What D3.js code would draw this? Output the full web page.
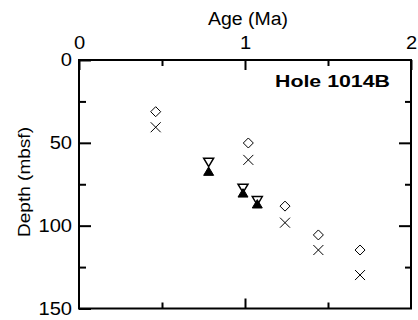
<!DOCTYPE html>
<html>
<head>
<meta charset="utf-8">
<script src="https://cdn.jsdelivr.net/npm/d3@7"></script>
<style>
  html, body { margin: 0; padding: 0; background: #fff; }
  svg { display: block; }
  text { font-family: "Liberation Sans", Arial, sans-serif; fill: #000; }
</style>
</head>
<body>
<svg id="chart" width="418" height="320"></svg>
<script>
// Age–depth points, Hole 1014B
const diamondAge   = [0.462, 1.02, 1.241, 1.442, 1.693];
const diamondDepth = [31.2, 50.1, 88.2, 105.6, 114.7];
const crossAge     = [0.462, 1.02, 1.241, 1.442, 1.693];
const crossDepth   = [40.6, 60.3, 98.2, 114.7, 129.8];
const triAge       = [0.781, 0.988, 1.074];
const openTriDepth = [61.8, 77.5, 85.0];   // open, point-down
const fillTriDepth = [67.1, 80.2, 86.8];   // filled, point-up

const xMajor = [0, 1, 2];
const xMinor = [0.5, 1.5];
const yMajor = [0, 50, 100, 150];
const yMinor = [25, 75, 125];

const svg = d3.select("#chart");
const L = 79, R = 411, T = 60, B = 308.5;

const x = d3.scaleLinear().domain([0, 2]).range([L, R]);
const y = d3.scaleLinear().domain([0, 150]).range([T, B]);

function styleAxis(g) {
  g.select(".domain").remove();
  g.selectAll(".tick line").attr("stroke", "#000").attr("stroke-width", 2);
  g.selectAll(".tick text").style("font-size", "17.5px")
    .style("font-family", '"Liberation Sans", Arial, sans-serif')
    .attr("transform", function () {
      // slightly widened numerals
      const t = d3.select(this);
      const tx = +t.attr("x") || 0;
      return `translate(${tx * -0.15},0) scale(1.15,1)`;
    });
}

// top axis with labels
svg.append("g").attr("transform", `translate(0,${T})`)
  .call(d3.axisTop(x).tickValues(xMajor).tickSize(-10).tickPadding(11).tickFormat(d3.format("d")))
  .call(styleAxis);
svg.append("g").attr("transform", `translate(0,${T})`)
  .call(d3.axisTop(x).tickValues(xMinor).tickSize(-6).tickFormat(""))
  .call(styleAxis);

// bottom axis ticks
svg.append("g").attr("transform", `translate(0,${B})`)
  .call(d3.axisBottom(x).tickValues([1]).tickSize(-10).tickFormat(""))
  .call(styleAxis);
svg.append("g").attr("transform", `translate(0,${B})`)
  .call(d3.axisBottom(x).tickValues(xMinor).tickSize(-6).tickFormat(""))
  .call(styleAxis);

// left axis with labels
svg.append("g").attr("transform", `translate(${L},0)`)
  .call(d3.axisLeft(y).tickValues(yMajor).tickSize(-12).tickPadding(7).tickFormat(d3.format("d")))
  .call(styleAxis);
svg.append("g").attr("transform", `translate(${L},0)`)
  .call(d3.axisLeft(y).tickValues(yMinor).tickSize(-7).tickFormat(""))
  .call(styleAxis);

// right axis ticks
svg.append("g").attr("transform", `translate(${R},0)`)
  .call(d3.axisRight(y).tickValues([50, 100]).tickSize(-12).tickFormat(""))
  .call(styleAxis);
svg.append("g").attr("transform", `translate(${R},0)`)
  .call(d3.axisRight(y).tickValues(yMinor).tickSizeInner(-6).tickFormat(""))
  .call(styleAxis);

// frame
svg.append("rect")
  .attr("x", L).attr("y", T).attr("width", R - L).attr("height", B - T)
  .attr("fill", "none").attr("stroke", "#000").attr("stroke-width", 2);

// axis titles
svg.append("text")
  .attr("x", 248).attr("y", 25).attr("text-anchor", "middle")
  .style("font-size", "18px")
  .attr("textLength", 80).attr("lengthAdjust", "spacingAndGlyphs")
  .text("Age (Ma)");

svg.append("text")
  .attr("transform", "translate(30,182) rotate(-90)")
  .attr("text-anchor", "middle")
  .style("font-size", "17px")
  .attr("textLength", 110).attr("lengthAdjust", "spacingAndGlyphs")
  .text("Depth (mbsf)");

svg.append("text")
  .attr("x", 275).attr("y", 86.5)
  .style("font-size", "16px").style("font-weight", "bold")
  .attr("textLength", 115).attr("lengthAdjust", "spacingAndGlyphs")
  .text("Hole 1014B");

// markers
const s = 5;
svg.append("g").selectAll("path")
  .data(diamondAge.map((a, i) => [a, diamondDepth[i]]))
  .join("path")
  .attr("d", d => {
    const cx = x(d[0]), cy = y(d[1]);
    return `M${cx},${cy - s}L${cx + s},${cy}L${cx},${cy + s}L${cx - s},${cy}Z`;
  })
  .attr("fill", "none").attr("stroke", "#000").attr("stroke-width", 1);

svg.append("g").selectAll("path")
  .data(crossAge.map((a, i) => [a, crossDepth[i]]))
  .join("path")
  .attr("d", d => {
    const cx = x(d[0]), cy = y(d[1]);
    return `M${cx - s},${cy - s}L${cx + s},${cy + s}M${cx + s},${cy - s}L${cx - s},${cy + s}`;
  })
  .attr("fill", "none").attr("stroke", "#000").attr("stroke-width", 1);

const tw = 5, th = 4.2;
svg.append("g").selectAll("path")
  .data(triAge.map((a, i) => [a, openTriDepth[i]]))
  .join("path")
  .attr("d", d => {
    const cx = x(d[0]), cy = y(d[1]);
    return `M${cx - tw},${cy - th}L${cx + tw},${cy - th}L${cx},${cy + th}Z`;
  })
  .attr("fill", "#fff").attr("stroke", "#000").attr("stroke-width", 1.5);

svg.append("g").selectAll("path")
  .data(triAge.map((a, i) => [a, fillTriDepth[i]]))
  .join("path")
  .attr("d", d => {
    const cx = x(d[0]), cy = y(d[1]);
    return `M${cx},${cy - th}L${cx + tw},${cy + th}L${cx - tw},${cy + th}Z`;
  })
  .attr("fill", "#000").attr("stroke", "#000").attr("stroke-width", 1);
</script>
</body>
</html>
